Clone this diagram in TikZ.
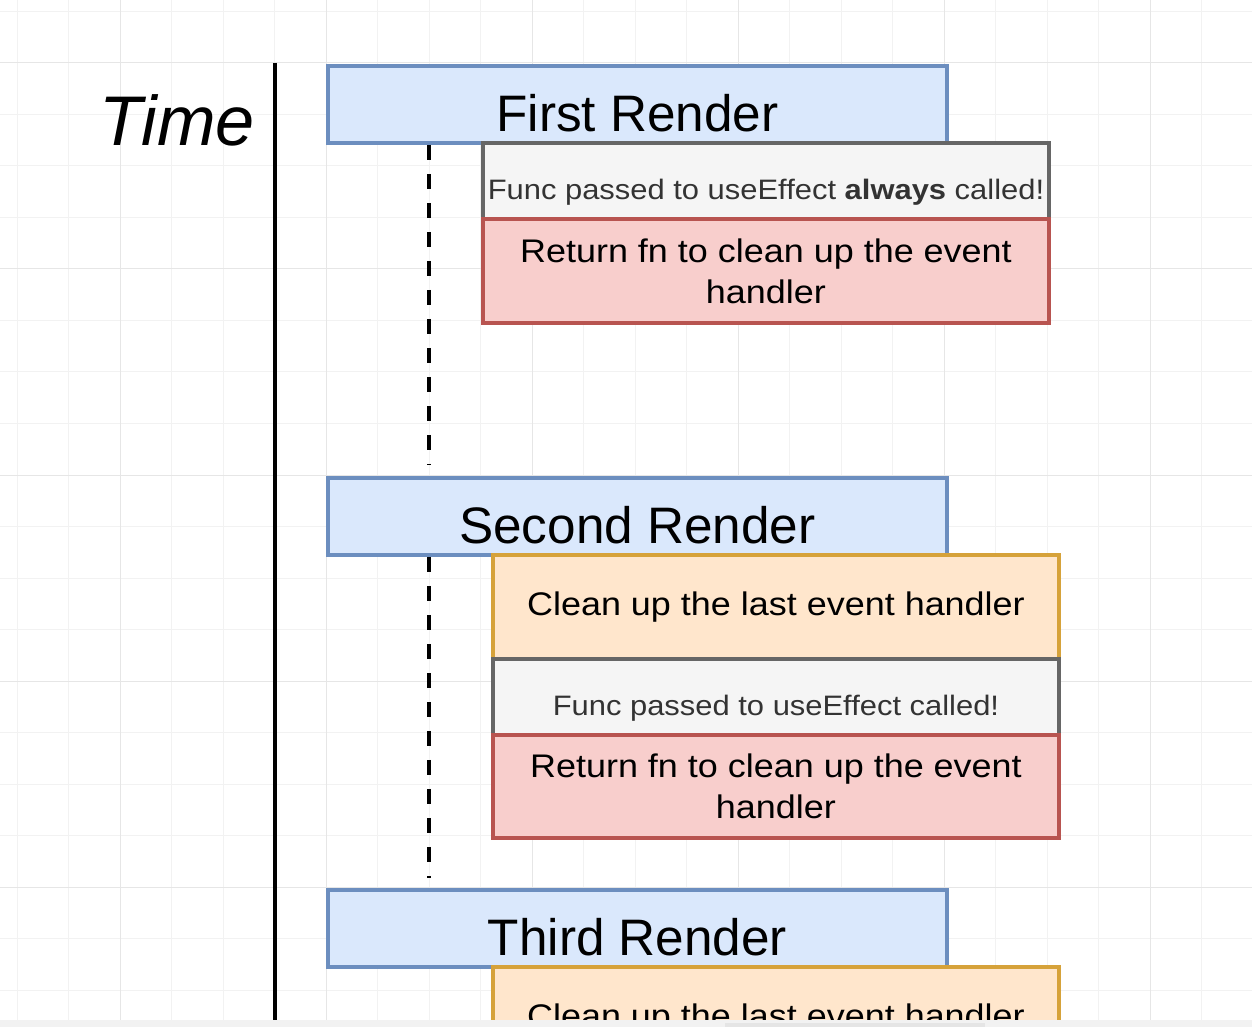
\documentclass[tikz,border=0pt]{standalone}
\usepackage{fontspec}
\setmainfont{Liberation Sans}
\newfontfamily\wideboxfont[FakeStretch=1.1]{Liberation Sans}
\usepackage{tikz}
\usetikzlibrary{calc}

\definecolor{renderfill}{HTML}{DAE8FC}
\definecolor{renderline}{HTML}{6C8EBF}
\definecolor{callfill}{HTML}{F5F5F5}
\definecolor{callline}{HTML}{666666}
\definecolor{calltext}{HTML}{333333}
\definecolor{returnfill}{HTML}{F8CECC}
\definecolor{returnline}{HTML}{B85450}
\definecolor{cleanfill}{HTML}{FFE6CC}
\definecolor{cleanline}{HTML}{D6A23A}
\definecolor{gridminor}{HTML}{F2F2F2}
\definecolor{gridmajor}{HTML}{E6E6E6}

\tikzset{
  box/.style = {draw, line width=0.08cm, inner sep=0pt, anchor=north west},
  render/.style = {box, draw=renderline, fill=renderfill, minimum width=12.38cm,
    text height=1.32cm, text depth=0.22cm, font=\fontsize{29.2}{30}\selectfont},
  callbox/.style = {box, draw=callline, fill=callfill, text=calltext, minimum width=11.32cm,
    text height=1.14cm, text depth=0.38cm, font=\wideboxfont\fontsize{16}{18}\selectfont},
  returnbox/.style = {box, draw=returnline, fill=returnfill, minimum width=11.32cm,
    minimum height=2.08cm, align=center, font=\wideboxfont\fontsize{18.6}{23.2}\selectfont},
  cleanbox/.style = {box, draw=cleanline, fill=cleanfill, minimum width=11.32cm,
    minimum height=2.08cm, font=\wideboxfont\fontsize{18.6}{23.2}\selectfont},
  waitline/.style = {line width=0.08cm, dash pattern=on 0.3cm off 0.28cm},
}

\begin{document}
\begin{tikzpicture}[x=0.02cm, y=-0.02cm]
  \useasboundingbox (0,0) rectangle (1252,1027);
  \fill[white] (0,0) rectangle (1252,1027);

  % grid
  \foreach \i in {0,...,24} {
    \draw[gridminor, line width=0.02cm] ({17+51.5*\i},0) -- ({17+51.5*\i},1027);
  }
  \foreach \i in {0,...,19} {
    \draw[gridminor, line width=0.02cm] (0,{11.5+51.5*\i}) -- (1252,{11.5+51.5*\i});
  }
  \foreach \i in {0,...,5} {
    \draw[gridmajor, line width=0.02cm] ({120+206*\i},0) -- ({120+206*\i},1027);
  }
  \foreach \i in {0,...,4} {
    \draw[gridmajor, line width=0.02cm] (0,{63+206*\i}) -- (1252,{63+206*\i});
  }

  % time axis
  \node[font=\fontsize{40}{44}\selectfont\itshape] (time) at (177,120) {Time};
  \coordinate (axistop) at (275,63);
  \coordinate (axisend) at (275,1027);
  \draw[line width=0.08cm] (axistop) -- (axisend);

  % first render
  \node[render] (first) at (326,64) {First Render};
  \node[callbox] (call1) at (481,141) {Func passed to useEffect \textbf{always} called!};
  \node[returnbox, minimum height=2.08cm] (ret1) at (481,217) {Return fn to clean up the event\\handler};
  \coordinate (wait1) at (429,465);
  \draw[waitline] (wait1 |- first.south) -- (wait1);

  % second render
  \node[render] (second) at (326,476) {Second Render};
  \node[cleanbox] (clean2) at (491,553) {Clean up the last event handler};
  \node[callbox] (call2) at (491,657) {Func passed to useEffect called!};
  \node[returnbox, minimum height=2.06cm] (ret2) at (491,733) {Return fn to clean up the event\\handler};
  \coordinate (wait2) at (429,878);
  \draw[waitline] (wait2 |- second.south) -- (wait2);

  % third render
  \node[render] (third) at (326,888) {Third Render};
  \node[cleanbox] (clean3) at (491,965) {Clean up the last event handler};

  % bottom edge of the view
  \fill[white!95!black] (0,1020) rectangle (1252,1027);
  \fill[white!90!black] (725,1023) rectangle (985,1027);
\end{tikzpicture}
\end{document}
